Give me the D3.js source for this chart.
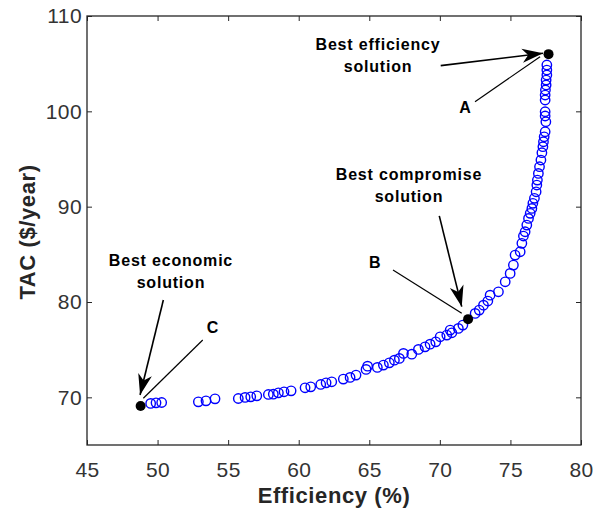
<!DOCTYPE html>
<html>
<head>
<meta charset="utf-8">
<script src="https://cdn.jsdelivr.net/npm/d3@7"></script>
<style>
  body { margin: 0; background: #fff; }
  text { font-family: "Liberation Sans", Arial, sans-serif; }
</style>
</head>
<body>
<svg class="chart" width="601" height="511"></svg>
<script>
// pareto front, efficiency (%) vs TAC ($/year)
var efficiency = [49.51, 49.89, 50.29, 52.89, 53.43, 54.07, 55.72, 56.20, 56.60, 57.03, 57.85, 58.20, 58.56, 58.96, 59.46,
    60.45, 60.85, 61.56, 61.94, 62.34, 63.16, 63.64, 64.06, 64.77, 64.88, 65.57, 66.00, 66.42, 66.78, 67.13, 67.42, 68.01,
    68.48, 68.95, 69.31, 69.71, 70.02, 70.49, 70.73, 70.85, 71.31, 71.63,
    72.50, 72.79, 73.09, 73.40, 73.56, 74.15, 74.63, 74.98, 75.21, 75.33, 75.69, 75.81, 75.92, 76.04, 76.16, 76.28, 76.40,
    76.52, 76.59, 76.70, 76.82, 76.87, 76.91, 76.98, 77.06, 77.16, 77.23, 77.30, 77.34, 77.39, 77.46, 77.51, 77.46, 77.46,
    77.46, 77.46, 77.48, 77.53, 77.53, 77.58, 77.58, 77.58];
var tac = [69.36, 69.42, 69.46, 69.53, 69.63, 69.84, 69.88, 69.99, 70.05, 70.16, 70.30, 70.33, 70.47, 70.58, 70.68,
    71.00, 71.10, 71.35, 71.52, 71.63, 71.91, 72.09, 72.33, 72.93, 73.27, 73.14, 73.38, 73.62, 73.90, 74.08, 74.61, 74.53,
    75.03, 75.30, 75.58, 75.82, 76.35, 76.53, 77.05, 76.77, 77.23, 77.58,
    78.80, 79.15, 79.67, 80.10, 80.72, 81.07, 82.12, 83.00, 83.87, 84.92, 85.27, 86.15, 86.92, 87.37, 88.07, 88.77, 89.30,
    89.82, 90.35, 90.87, 91.56, 92.27, 92.79, 93.49, 94.19, 94.89, 95.66, 96.29, 96.81, 97.33, 97.86, 98.91, 99.51, 99.96,
    101.19, 101.71, 102.24, 102.76, 103.28, 103.81, 104.33, 104.86];

// chosen solutions A, B, C
var bestEff = [77.7, 72.0, 48.8];
var bestTac = [106.0, 78.2, 69.1];

var xTicks = [45, 50, 55, 60, 65, 70, 75, 80];
var yTicks = [70, 80, 90, 100, 110];

// annotation text: [lines, x, y] in data units (first baseline)
var notes = [
    [["Best efficiency", "solution"], 65.62, 106.43],
    [["Best compromise", "solution"], 67.81, 92.80],
    [["Best economic", "solution"], 50.95, 83.78],
    [["A"], 71.82, 99.83],
    [["B"], 65.41, 83.57],
    [["C"], 53.93, 76.75]
];
// arrows [x1, y1, x2, y2] and plain pointer lines
var arrows = [
    [70.06, 104.79, 77.31, 106.09],
    [69.96, 89.03, 71.55, 79.51],
    [50.41, 80.21, 48.76, 70.24]
];
var pointers = [
    [72.49, 101.01, 77.10, 105.73],
    [66.68, 83.36, 71.55, 78.81],
    [53.20, 76.01, 48.99, 69.90]
];

var svg = d3.select("svg.chart"),
    margin = { top: 16, right: 20, bottom: 66, left: 87 },
    width = +svg.attr("width") - margin.left - margin.right,
    height = +svg.attr("height") - margin.top - margin.bottom,
    g = svg.append("g").attr("transform", "translate(" + margin.left + "," + margin.top + ")");

var x = d3.scaleLinear().domain([45, 80]).range([0, width]);
var y = d3.scaleLinear().domain([65, 110]).range([height, 0]);

var axisColor = "#262626";

function styleAxis(sel) {
    sel.select(".domain").remove();
    sel.selectAll("line").attr("stroke", axisColor).attr("stroke-width", 1);
    sel.selectAll("text")
        .attr("fill", "#333")
        .style("font-size", "21px")
        .style("letter-spacing", "0.4px");
}

g.append("g")
    .attr("transform", "translate(0," + height + ")")
    .call(d3.axisBottom(x).tickValues(xTicks).tickSizeInner(-5).tickSizeOuter(0).tickPadding(17))
    .call(styleAxis);
g.append("g")
    .call(d3.axisTop(x).tickValues(xTicks).tickSizeInner(-5).tickSizeOuter(0).tickFormat(""))
    .call(styleAxis);
g.append("g")
    .call(d3.axisLeft(y).tickValues(yTicks).tickSizeInner(-5).tickSizeOuter(0).tickPadding(5))
    .call(styleAxis);
g.append("g")
    .attr("transform", "translate(" + width + ",0)")
    .call(d3.axisRight(y).tickValues(yTicks).tickSizeInner(-5).tickSizeOuter(0).tickFormat(""))
    .call(styleAxis);

g.append("rect")
    .attr("width", width).attr("height", height)
    .attr("fill", "none").attr("stroke", axisColor).attr("stroke-width", 1.3);

// axis titles
svg.append("text")
    .attr("x", margin.left + width / 2).attr("y", 503)
    .attr("text-anchor", "middle")
    .attr("fill", axisColor)
    .style("font-size", "22px").style("font-weight", "bold").style("letter-spacing", "0.6px")
    .text("Efficiency (%)");
svg.append("text")
    .attr("transform", "translate(35," + (margin.top + 216) + ") rotate(-90)")
    .attr("text-anchor", "middle")
    .attr("fill", axisColor)
    .style("font-size", "22px").style("font-weight", "bold").style("letter-spacing", "0.6px")
    .text("TAC ($/year)");

// pareto points
var pts = efficiency.map(function (d, i) { return [d, tac[i]]; });
g.selectAll(".pt")
    .data(pts)
    .enter().append("circle")
    .attr("class", "pt")
    .attr("cx", function (d) { return x(d[0]); })
    .attr("cy", function (d) { return y(d[1]); })
    .attr("r", 4.7)
    .attr("fill", "none")
    .attr("stroke", "#0000ff")
    .attr("stroke-width", 1.4);

g.selectAll(".best")
    .data(bestEff.map(function (d, i) { return [d, bestTac[i]]; }))
    .enter().append("circle")
    .attr("class", "best")
    .attr("cx", function (d) { return x(d[0]); })
    .attr("cy", function (d) { return y(d[1]); })
    .attr("r", 5)
    .attr("fill", "#000");

// arrow head
svg.append("defs").append("marker")
    .attr("id", "head")
    .attr("markerUnits", "userSpaceOnUse")
    .attr("viewBox", "-22 -8 24 16")
    .attr("refX", 0).attr("refY", 0)
    .attr("markerWidth", 24).attr("markerHeight", 16)
    .attr("orient", "auto")
    .append("path")
    .attr("d", "M0,0L-21,-7L-15,0L-21,7Z")
    .attr("fill", "#000");

g.selectAll(".arrow")
    .data(arrows)
    .enter().append("line")
    .attr("x1", function (d) { return x(d[0]); })
    .attr("y1", function (d) { return y(d[1]); })
    .attr("x2", function (d) { return x(d[2]); })
    .attr("y2", function (d) { return y(d[3]); })
    .attr("stroke", "#000").attr("stroke-width", 1.6)
    .attr("marker-end", "url(#head)");

g.selectAll(".pointer")
    .data(pointers)
    .enter().append("line")
    .attr("x1", function (d) { return x(d[0]); })
    .attr("y1", function (d) { return y(d[1]); })
    .attr("x2", function (d) { return x(d[2]); })
    .attr("y2", function (d) { return y(d[3]); })
    .attr("stroke", "#000").attr("stroke-width", 1.2);

var note = g.selectAll(".note")
    .data(notes)
    .enter().append("text")
    .attr("text-anchor", "middle")
    .attr("fill", "#000")
    .style("font-size", "16px").style("font-weight", "bold").style("letter-spacing", "0.8px");
note.selectAll("tspan")
    .data(function (d) { return d[0].map(function (s, i) { return { s: s, i: i, x: d[1], y: d[2] }; }); })
    .enter().append("tspan")
    .attr("x", function (d) { return x(d.x); })
    .attr("y", function (d) { return y(d.y) + d.i * 22; })
    .text(function (d) { return d.s; });
</script>
</body>
</html>
